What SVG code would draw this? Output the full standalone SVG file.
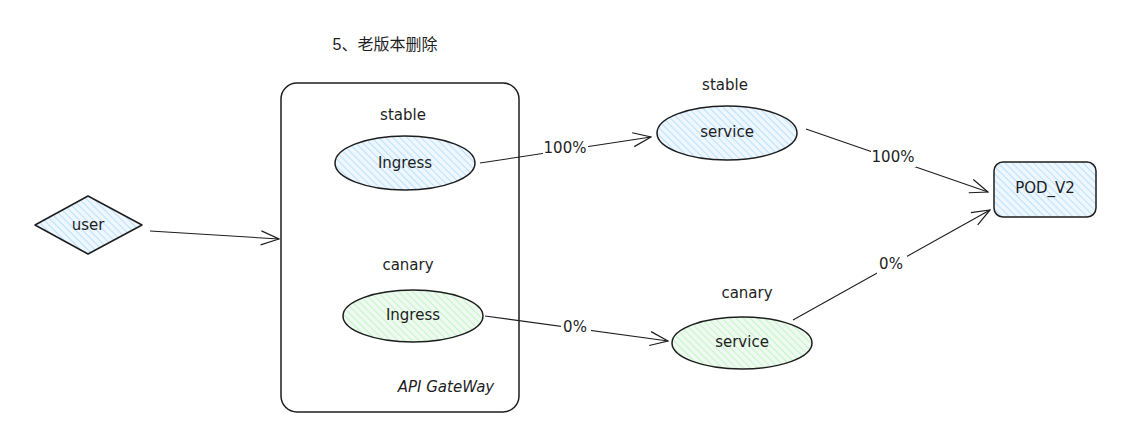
<svg xmlns="http://www.w3.org/2000/svg" width="1130" height="448" viewBox="0 0 1130 448">
<defs>
<pattern id="hb" patternUnits="userSpaceOnUse" width="5" height="5" patternTransform="rotate(-45)">
<rect width="5" height="5" fill="#eef6fe"/>
<line x1="0" y1="0" x2="0" y2="5" stroke="#a5d8ff" stroke-width="1.4"/>
</pattern>
<pattern id="hg" patternUnits="userSpaceOnUse" width="5" height="5" patternTransform="rotate(-45)">
<rect width="5" height="5" fill="#eefaef"/>
<line x1="0" y1="0" x2="0" y2="5" stroke="#b2f2bb" stroke-width="1.4"/>
</pattern>
<marker id="arr" viewBox="0 0 20 20" refX="19" refY="10" markerWidth="20" markerHeight="20" markerUnits="userSpaceOnUse" orient="auto">
<path d="M1,3 L19,10 L1,17" fill="none" stroke="#1e1e1e" stroke-width="1.2"/>
</marker>
<style>
.sh{stroke:#1e1e1e;stroke-width:1.5}
.t{font-family:"DejaVu Sans",sans-serif;font-size:15px;fill:#1e1e1e;text-anchor:middle;dominant-baseline:central}
.c{fill:none;stroke:#1e1e1e;stroke-width:1.1;marker-end:url(#arr)}
.lb{font-family:"DejaVu Sans",sans-serif;font-size:15px;fill:#1e1e1e;text-anchor:middle;dominant-baseline:central}
</style>
</defs>
<rect width="1130" height="448" fill="#ffffff"/>
<text x="385" y="44" style="font-family:'Liberation Sans','Noto Sans CJK SC',sans-serif;font-size:16px;fill:#1e1e1e" text-anchor="middle" dominant-baseline="central">5、老版本删除</text>

<g id="gateway">
<rect x="281" y="83" width="238" height="329" rx="16" fill="none" class="sh"/>
<text class="t" x="446" y="387" font-style="italic">API GateWay</text>
</g>

<g id="user">
<path d="M35,225 L88,196 L142,225 L88,254 Z" fill="url(#hb)" class="sh" stroke-linejoin="round"/>
<text class="t" x="88" y="225">user</text>
</g>

<g id="ingress-stable">
<text class="t" x="403" y="115">stable</text>
<ellipse cx="405" cy="163" rx="70" ry="27" fill="url(#hb)" class="sh"/>
<text class="t" x="405" y="163">Ingress</text>
</g>

<g id="ingress-canary">
<text class="t" x="408" y="265">canary</text>
<ellipse cx="413" cy="316" rx="70" ry="26" fill="url(#hg)" class="sh"/>
<text class="t" x="413" y="315">Ingress</text>
</g>

<g id="service-stable">
<text class="t" x="725" y="85">stable</text>
<ellipse cx="727" cy="133" rx="70" ry="27" fill="url(#hb)" class="sh"/>
<text class="t" x="727" y="132">service</text>
</g>

<g id="service-canary">
<text class="t" x="747" y="293">canary</text>
<ellipse cx="742" cy="343" rx="70" ry="26" fill="url(#hg)" class="sh"/>
<text class="t" x="742" y="342">service</text>
</g>

<g id="pod">
<rect x="994" y="162" width="102" height="55" rx="9" fill="url(#hb)" class="sh"/>
<text class="t" x="1045" y="188">POD_V2</text>
</g>

<g id="connectors">
<path class="c" d="M150,231 L279,239"/>
<path class="c" d="M480,163 L651,137"/>
<path class="c" d="M485,316 L668,341"/>
<path class="c" d="M806,129 L988,192"/>
<path class="c" d="M793,320 L990,210"/>
<rect x="543" y="138" width="45" height="20" fill="#fff"/>
<text class="lb" x="565" y="148">100%</text>
<rect x="561" y="317" width="30" height="20" fill="#fff"/>
<text class="lb" x="575" y="327">0%</text>
<rect x="871" y="147" width="45" height="20" fill="#fff"/>
<text class="lb" x="893" y="157">100%</text>
<rect x="877" y="254" width="30" height="20" fill="#fff"/>
<text class="lb" x="891" y="264">0%</text>
</g>
</svg>
